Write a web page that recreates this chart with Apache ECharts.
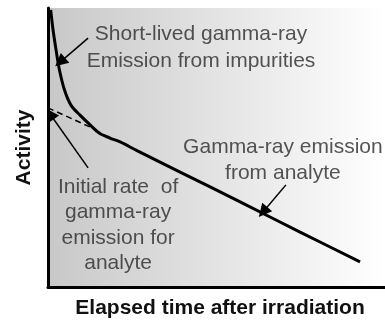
<!DOCTYPE html>
<html>
<head>
<meta charset="utf-8">
<script src="https://cdn.jsdelivr.net/npm/echarts@6/dist/echarts.min.js"></script>
<style>
  html, body { margin: 0; padding: 0; background: #ffffff; }
  #chart { width: 385px; height: 320px; }
</style>
</head>
<body>
<div id="chart"></div>
<script>
// Total measured activity (analyte + short-lived impurities), arbitrary units
const timeTotal     = [0.8, 1.5, 2.4, 3.4, 4.9, 6.8, 9.5, 12.5, 15.4, 18.4, 21.4, 26.4, 39.2, 57.0, 74.8, 92.6];
const activityTotal = [99.3, 92.1, 84.9, 77.8, 70.6, 65.2, 61.6, 58.1, 55.0, 53.4, 52.0, 48.9, 41.2, 30.5, 19.7, 9.0];

// Extrapolated initial analyte emission (dashed)
const timeInitial     = [0, 13.1];
const activityInitial = [64.2, 57.0];

// Annotation arrows: [fromX, fromY] -> [toX, toY]
const arrowFrom = [[11.9, 89.2], [11.9, 42.7], [70.6, 36.6]];
const arrowTo   = [[3.6, 80.6], [0.6, 62.0], [63.8, 26.9]];

// Annotation text anchors
const noteX    = [45.4, 69.7, 20.8];
const noteY    = [85.8, 45.5, 22.2];
const noteText = [
  'Short-lived gamma-ray\nEmission from impurities',
  'Gamma-ray emission\nfrom analyte',
  'Initial rate  of\ngamma-ray\nemission for\nanalyte'
];
const noteLineHeight = [27, 26, 25.3];

const FONT = '"Liberation Sans", Arial, Helvetica, sans-serif';

const chart = echarts.init(document.getElementById('chart'), null, { renderer: 'canvas' });

chart.setOption({
  animation: false,
  backgroundColor: '#ffffff',
  grid: {
    left: 48, right: 0, top: 8, bottom: 33,
    containLabel: false,
    outerBoundsMode: 'none',
    show: true,
    borderWidth: 0,
    backgroundColor: new echarts.graphic.LinearGradient(0, 0, 1, 0, [
      { offset: 0, color: '#c8c8c8' },
      { offset: 1, color: '#ffffff' }
    ])
  },
  xAxis: {
    type: 'value', min: 0, max: 100,
    name: 'Elapsed time after irradiation',
    nameLocation: 'middle',
    nameGap: 11,
    nameTextStyle: { fontFamily: FONT, fontSize: 21, fontWeight: 'bold', color: '#111', padding: [0, 0, 0, 7] },
    axisLine: { show: true, lineStyle: { color: '#000', width: 3 } },
    axisTick: { show: false }, axisLabel: { show: false }, splitLine: { show: false }
  },
  yAxis: {
    type: 'value', min: 0, max: 100,
    name: 'Activity',
    nameLocation: 'middle',
    nameRotate: 90,
    nameGap: 13,
    nameTextStyle: { fontFamily: FONT, fontSize: 21, fontWeight: 'bold', color: '#111' },
    axisLine: { show: true, lineStyle: { color: '#000', width: 3 } },
    axisTick: { show: false }, axisLabel: { show: false }, splitLine: { show: false }
  },
  series: [
    {
      name: 'Total activity',
      type: 'line',
      data: timeTotal.map((t, i) => [t, activityTotal[i]]),
      smooth: 0.3,
      showSymbol: false,
      lineStyle: { color: '#000', width: 3 },
      z: 3
    },
    {
      name: 'Initial analyte rate',
      type: 'line',
      data: timeInitial.map((t, i) => [t, activityInitial[i]]),
      showSymbol: false,
      lineStyle: { color: '#000', width: 1.5, type: [6, 4] },
      z: 2
    },
    {
      name: 'Arrows',
      type: 'lines',
      coordinateSystem: 'cartesian2d',
      symbol: ['none', 'triangle'],
      symbolSize: [9, 13],
      lineStyle: { color: '#000', width: 1.5, opacity: 1, curveness: 0 },
      data: arrowFrom.map((f, i) => ({ coords: [f, arrowTo[i]] })),
      z: 4
    },
    {
      name: 'Notes',
      type: 'scatter',
      symbolSize: 0,
      silent: true,
      data: noteX.map((x, i) => ({
        value: [x, noteY[i]],
        label: { lineHeight: noteLineHeight[i] }
      })),
      label: {
        show: true,
        position: 'inside',
        align: 'center',
        verticalAlign: 'middle',
        fontFamily: FONT,
        fontSize: 21,
        color: '#2b2b2b',
        formatter: p => noteText[p.dataIndex]
      },
      z: 5
    }
  ]
});
</script>
</body>
</html>
